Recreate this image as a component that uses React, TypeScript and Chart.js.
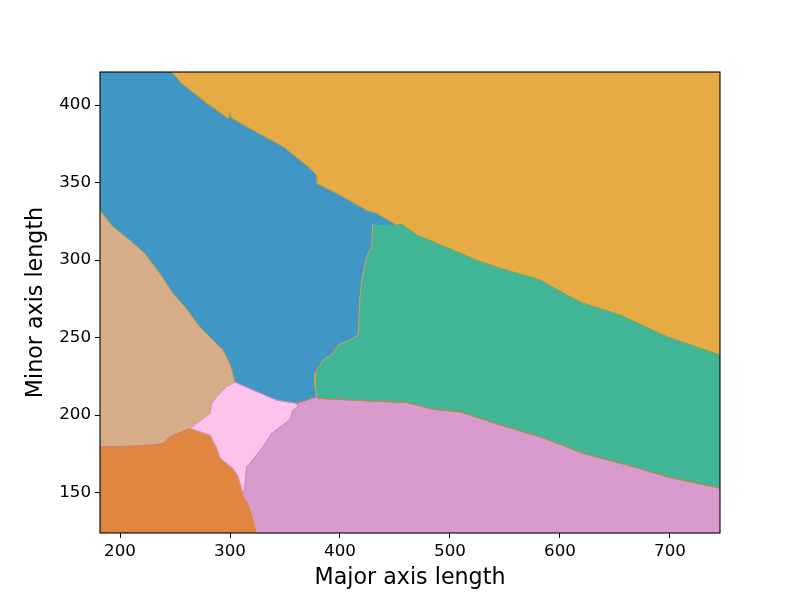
import React, { useEffect, useRef } from "react";
import { Chart, registerables } from "chart.js";

Chart.register(...registerables);

// axis limits and ticks
const xMin = 181.8;
const xMax = 745.5;
const yMin = 124.0;
const yMax = 421.3;
const xTicks = [200, 300, 400, 500, 600, 700];
const yTicks = [150, 200, 250, 300, 350, 400];

// decision boundaries, in data units [major, minor]
const blueOrange = [
  [247.0, 421.3], [256.1, 414.0], [277.3, 402.1], [298.5, 391.4], [300.0, 395.0],
  [301.5, 391.6], [328.8, 380.7], [348.5, 373.1], [371.2, 360.2], [378.8, 354.9],
  [378.8, 349.5], [397.0, 343.1], [424.3, 332.2], [433.4, 330.2], [451.5, 322.6],
];
const greenOrange = [
  [451.5, 322.6], [456.1, 323.1], [469.7, 316.2], [506.1, 305.4], [527.3, 299.0],
  [545.5, 294.7], [581.8, 287.2], [606.1, 277.5], [621.2, 272.1], [654.5, 264.6],
  [697.0, 250.6], [727.3, 243.1], [745.5, 238.8],
];
const blueGreen = [
  [429.7, 323.1], [428.8, 308.6], [424.3, 302.2], [419.7, 287.2], [418.2, 276.4],
  [416.6, 251.7], [409.1, 248.5], [398.5, 245.3], [393.9, 240.0], [384.8, 235.6],
  [377.3, 227.0], [377.3, 218.4], [378.8, 211.9],
];
const greenPurple = [
  [378.8, 211.9], [380.3, 210.9], [409.1, 209.8], [460.6, 208.1], [484.8, 203.8],
  [509.1, 202.2], [545.5, 193.7], [581.8, 186.1], [621.2, 175.4], [666.6, 166.8],
  [696.9, 160.3], [745.5, 152.9],
];
const bluePurple = [[378.8, 211.9], [369.7, 209.8], [360.6, 207.7]];
const bluePink = [[360.6, 207.7], [342.5, 209.8], [321.2, 216.2], [304.5, 221.4]];
const brownBlue = [
  [181.8, 332.3], [193.9, 321.5], [209.1, 313.0], [222.7, 304.4], [236.4, 291.5],
  [248.5, 278.6], [259.1, 270.0], [272.7, 257.1], [284.8, 248.5], [293.9, 242.0],
  [300.0, 233.5], [304.5, 222.7], [304.5, 221.4],
];
const pinkPurple = [
  [360.6, 207.7], [362.1, 205.5], [357.5, 203.4], [354.5, 196.9], [337.9, 188.3],
  [330.3, 179.7], [318.2, 169.0], [315.2, 166.8], [313.6, 154.1], [312.1, 148.6],
];
const redPurple = [[312.1, 148.6], [318.2, 141.0], [322.7, 130.3], [324.3, 124.0]];
const pinkRed = [
  [312.1, 148.6], [307.5, 160.3], [303.0, 165.3], [291.0, 172.4], [287.9, 178.7],
  [282.0, 187.0], [272.7, 189.3], [263.6, 191.5],
];
const brownRed = [
  [263.6, 191.5], [245.5, 186.1], [239.4, 181.9], [230.3, 180.8], [200.0, 179.7],
  [181.8, 179.7],
];
const brownPink = [
  [263.6, 191.5], [281.8, 201.2], [283.4, 207.7], [287.9, 211.9], [296.9, 218.4],
  [304.5, 221.4],
];

const rev = (a: number[][]) => [...a].reverse();

const regions = [
  {
    color: "rgb(230,171,68)",
    pts: [...blueOrange, ...greenOrange, [xMax, yMax]],
  },
  {
    color: "rgb(64,150,197)",
    pts: [[xMin, yMax], ...blueOrange, ...blueGreen, ...bluePurple, ...bluePink, ...rev(brownBlue)],
  },
  {
    color: "rgb(65,182,150)",
    pts: [...greenOrange, ...rev(greenPurple), ...rev(blueGreen)],
  },
  {
    color: "rgb(217,154,205)",
    pts: [...greenPurple, [xMax, yMin], ...rev(redPurple), ...rev(pinkPurple), ...rev(bluePurple)],
  },
  {
    color: "rgb(252,195,235)",
    pts: [...pinkPurple, ...pinkRed, ...brownPink, ...rev(bluePink)],
  },
  {
    color: "rgb(224,134,64)",
    pts: [[xMin, yMin], ...rev(brownRed), ...rev(pinkRed), ...redPurple],
  },
  {
    color: "rgb(215,173,137)",
    pts: [...brownBlue, ...rev(brownPink), ...brownRed],
  },
];

// thin contour lines along the boundaries
const edges = [
  { color: "rgb(172,156,66)", pts: blueOrange },
  { color: "rgb(80,168,112)", pts: greenOrange },
  { color: "rgb(214,162,64)", pts: blueGreen },
  { color: "rgb(216,122,62)", pts: greenPurple },
  { color: "rgb(216,122,62)", pts: bluePurple },
  { color: "rgb(206,134,176)", pts: bluePink },
  { color: "rgb(160,150,82)", pts: brownBlue },
  { color: "rgb(206,134,176)", pts: pinkPurple },
  { color: "rgb(206,134,176)", pts: pinkRed },
  { color: "rgb(200,128,120)", pts: brownRed },
  { color: "rgb(206,134,176)", pts: brownPink },
];

const frame = {
  id: "frame",
  afterDraw(chart: any) {
    const { ctx, chartArea: a } = chart;
    ctx.save();
    ctx.strokeStyle = "#000";
    ctx.lineWidth = 1.1;
    ctx.strokeRect(a.left, a.top, a.right - a.left, a.bottom - a.top);
    ctx.restore();
  },
};

const family = "'DejaVu Sans', sans-serif";
const tickFont = { family, size: 16.7 };
const titleFont = { family, size: 22.2 };

const App = () => {
  const canvasRef = useRef<HTMLCanvasElement | null>(null);

  useEffect(() => {
    const ctx = canvasRef.current?.getContext("2d") as CanvasRenderingContext2D;
    const fills = regions.map((r) => ({
      data: r.pts.map(([x, y]) => ({ x, y })),
      backgroundColor: r.color,
      borderColor: r.color,
      borderWidth: 1,
      pointRadius: 0,
      tension: 0,
      fill: "shape",
      order: 2,
    }));
    const lines = edges.map((e) => ({
      data: e.pts.map(([x, y]) => ({ x, y })),
      borderColor: e.color,
      borderWidth: 1,
      pointRadius: 0,
      tension: 0,
      fill: false,
      order: 1,
    }));
    const chart = new Chart(ctx, {
      type: "line",
      data: { datasets: [...fills, ...lines] },
      options: {
        animation: false,
        responsive: true,
        maintainAspectRatio: false,
        events: [],
        layout: { padding: { top: 72, right: 80, left: 0, bottom: 0 } },
        plugins: { legend: { display: false }, tooltip: { enabled: false } },
        scales: {
          x: {
            type: "linear",
            min: xMin,
            max: xMax,
            afterBuildTicks: (s: any) => {
              s.ticks = xTicks.map((value) => ({ value }));
            },
            afterFit: (s: any) => {
              s.height = 67;
            },
            border: { display: false },
            grid: { display: true, drawOnChartArea: false, drawTicks: true, tickLength: 5, color: "#000" },
            ticks: { color: "#000", padding: 4, font: tickFont },
            title: {
              display: true,
              text: "Major axis length",
              color: "#000",
              padding: { top: 0, bottom: 8 },
              font: titleFont,
            },
          },
          y: {
            type: "linear",
            min: yMin,
            max: yMax,
            afterBuildTicks: (s: any) => {
              s.ticks = yTicks.map((value) => ({ value }));
            },
            afterFit: (s: any) => {
              s.width = 100;
            },
            border: { display: false },
            grid: { display: true, drawOnChartArea: false, drawTicks: true, tickLength: 5, color: "#000" },
            ticks: { color: "#000", padding: 4, font: tickFont },
            title: {
              display: true,
              text: "Minor axis length",
              color: "#000",
              padding: { top: 23, bottom: 0 },
              font: titleFont,
            },
          },
        },
      },
      plugins: [frame],
    } as any);

    return () => {
      chart.destroy();
    };
  }, []);

  return (
    <div style={{ position: "absolute", left: 0, top: 0, width: 800, height: 600, background: "#fff" }}>
      <canvas ref={canvasRef} />
    </div>
  );
};

export default App;
